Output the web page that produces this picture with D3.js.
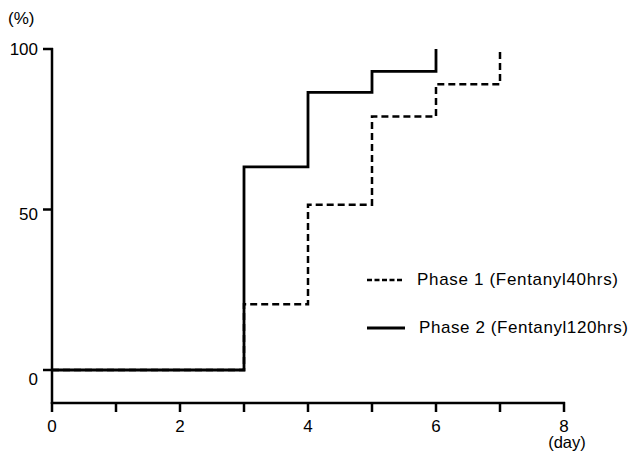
<!DOCTYPE html>
<html>
<head>
<meta charset="utf-8">
<script src="https://cdn.jsdelivr.net/npm/d3@7"></script>
<style>
  body { margin: 0; background: #fff; }
  text { font-family: "Liberation Sans", Arial, sans-serif; fill: #000; }
</style>
</head>
<body>
<div id="chart"></div>
<script>
// Step data: day at which each step begins, and cumulative %
const phase1Days = [0, 3, 4, 5, 6, 7];
const phase1Vals = [0, 20.5, 51.5, 79, 89, 100];
const phase2Days = [0, 3, 4, 5, 6];
const phase2Vals = [0, 63.3, 86.5, 93, 100];
const xTicks = [0, 1, 2, 3, 4, 5, 6, 7, 8];
const xLabels = [0, 2, 4, 6, 8];
const yTicks = [0, 50, 100];
const legendNames = ["Phase 1 (Fentanyl40hrs)", "Phase 2 (Fentanyl120hrs)"];

const width = 633, height = 453;

const svg = d3.select("#chart").append("svg")
  .attr("width", width)
  .attr("height", height);

const x = d3.scaleLinear().domain([0, 8]).range([52, 564]);
const y = d3.scaleLinear().domain([0, 100]).range([370, 49]);
// tick labels in the original sit a little off their ticks
const yLab = d3.scaleLinear().domain([0, 100]).range([385, 55]);

// Build step path: horizontal to next day then vertical
function stepPoints(days, vals) {
  const pts = [];
  days.forEach((d, i) => {
    pts.push([d, vals[i]]);
    if (i < days.length - 1) pts.push([days[i + 1], vals[i]]);
  });
  return pts;
}
const line = d3.line().x(d => x(d[0])).y(d => y(d[1]));

// Axes
const yAxis = svg.append("g");
yAxis.append("line")
  .attr("x1", x(0)).attr("x2", x(0))
  .attr("y1", y(100) - 1).attr("y2", 404)
  .attr("stroke", "#000").attr("stroke-width", 2.5);
yAxis.selectAll(".ytick").data(yTicks).join("line")
  .attr("x1", x(0) - 9).attr("x2", x(0) + 1)
  .attr("y1", d => y(d)).attr("y2", d => y(d))
  .attr("stroke", "#000").attr("stroke-width", 2.5);
yAxis.selectAll(".ylab").data(yTicks).join("text")
  .attr("x", 38).attr("y", d => yLab(d))
  .attr("text-anchor", "end")
  .attr("font-size", 17)
  .text(d => d);
svg.append("text").attr("x", 8).attr("y", 24).attr("font-size", 17).text("(%)");

const xAxis = svg.append("g");
xAxis.append("line")
  .attr("x1", x(0) - 1).attr("x2", x(8) + 1)
  .attr("y1", 403).attr("y2", 403)
  .attr("stroke", "#000").attr("stroke-width", 2.5);
xAxis.selectAll(".xtick").data(xTicks).join("line")
  .attr("x1", d => x(d)).attr("x2", d => x(d))
  .attr("y1", 402).attr("y2", 412)
  .attr("stroke", "#000").attr("stroke-width", 2.5);
xAxis.selectAll(".xlab").data(xLabels).join("text")
  .attr("x", d => x(d)).attr("y", 432)
  .attr("text-anchor", "middle")
  .attr("font-size", 17)
  .text(d => d);
svg.append("text").attr("x", x(8) + 3).attr("y", 448)
  .attr("text-anchor", "middle").attr("font-size", 16.5).text("(day)");

// Series
svg.append("path")
  .attr("d", line(stepPoints(phase1Days, phase1Vals)))
  .attr("fill", "none").attr("stroke", "#000")
  .attr("stroke-width", 2.5).attr("stroke-dasharray", "7,4");
svg.append("path")
  .attr("d", line(stepPoints(phase2Days, phase2Vals)))
  .attr("fill", "none").attr("stroke", "#000")
  .attr("stroke-width", 2.8);

// Legend
const legend = svg.append("g");
const legY = [280, 328];
legend.selectAll("line").data(legendNames).join("line")
  .attr("x1", 367).attr("x2", (d, i) => i ? 405 : 403)
  .attr("y1", (d, i) => legY[i]).attr("y2", (d, i) => legY[i])
  .attr("stroke", "#000")
  .attr("stroke-width", (d, i) => i ? 2.8 : 2.5)
  .attr("stroke-dasharray", (d, i) => i ? null : "5,2.5");
legend.selectAll("text").data(legendNames).join("text")
  .attr("x", (d, i) => i ? 419 : 417)
  .attr("y", (d, i) => legY[i] + 5)
  .attr("font-size", 17)
  .attr("textLength", (d, i) => i ? 209 : 201)
  .attr("lengthAdjust", "spacing")
  .text(d => d);
</script>
</body>
</html>
